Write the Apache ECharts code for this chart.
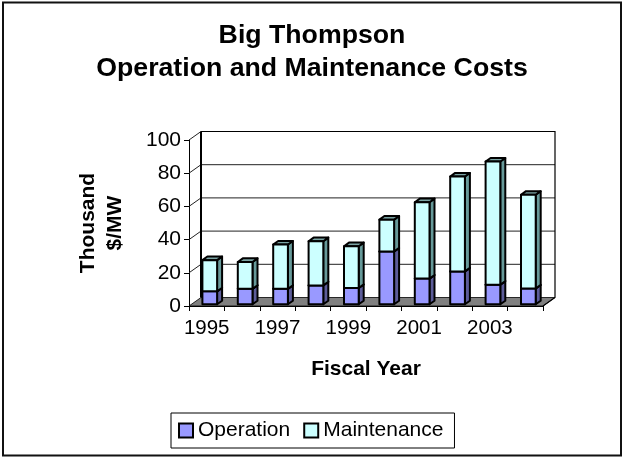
<!DOCTYPE html>
<html><head><meta charset="utf-8">
<style>html,body{margin:0;padding:0;background:#fff;overflow:hidden}#c{width:623px;height:459px}</style>
<script src="https://cdn.jsdelivr.net/npm/echarts@6/dist/echarts.min.js"></script>
</head><body><div id="c"></div>
<script>
const years = ['1995','1996','1997','1998','1999','2000','2001','2002','2003','2004'];
const operation = [7.8, 9.3, 9.3, 11.4, 9.8, 31.8, 15.5, 19.8, 11.8, 9.5];
const maintenance = [18.8, 16.2, 26.7, 26.6, 25.2, 19.2, 46, 57.2, 74.2, 56.5];
const ticks = [0,20,40,60,80,100];
const opColor = '#9999FF', opSide = '#5C5C99', opTop='#7A7ACC';
const mtColor = '#CCFFFF', mtSide = '#669999', mtTop='#7AA3A3';
const DX = 12, DY = 8.5;
const bx = 5, by = 3.6;
const sx = 2.85, sy = 1.7;
const W = 14.7;
const chart = echarts.init(document.getElementById('c'), null, {renderer:'canvas'});
function wall(params, api){
  const cs = params.coordSys;
  const L = cs.x, R = cs.x+cs.width, T = cs.y, B = cs.y+cs.height;
  const kids = [];
  kids.push({type:'polygon',shape:{points:[[L,B],[L+DX,B-DY],[R+DX,B-DY],[R,B]]},style:{fill:'#808080',stroke:'#000',lineWidth:0.8},silent:true});
  ticks.forEach(t=>{
    const y = api.coord([0,t])[1];
    if(t>0){ kids.push({type:'polyline',shape:{points:[[L,y],[L+DX,y-DY],[R+DX,y-DY]]},style:{fill:null,stroke:'#222',lineWidth:1},silent:true}); }
  });
  kids.push({type:'polyline',shape:{points:[[L+DX,T-DY],[R+DX,T-DY],[R+DX,B-DY],[R,B]]},style:{fill:null,stroke:'#000',lineWidth:1.2},silent:true});
  kids.push({type:'line',shape:{x1:L+DX,y1:B-DY,x2:L+DX,y2:T-DY},style:{stroke:'#000',lineWidth:2},silent:true});
  return {type:'group',children:kids};
}
function seg(front,side,top){
  return function(params, api){
    const i = api.value(0), a = api.value(1), b = api.value(2);
    const c0 = api.coord([i,a]), c1 = api.coord([i,b]);
    const x0 = c0[0]+sx-W/2+0.2, x1 = x0+W, y0 = c0[1]-sy, y1 = c1[1]-sy;
    const st = (f)=>({fill:f,stroke:'#000',lineWidth:2,lineJoin:'round'});
    return {type:'group',children:[
      {type:'polygon',shape:{points:[[x1,y0],[x1+bx,y0-by],[x1+bx,y1-by],[x1,y1]]},style:st(side)},
      {type:'polygon',shape:{points:[[x0,y1],[x0+bx,y1-by],[x1+bx,y1-by],[x1,y1]]},style:st(top)},
      {type:'rect',shape:{x:x0,y:y1,width:W,height:y0-y1},style:st(front)}
    ]};
  };
}
const opData = years.map((y,i)=>[i,0,operation[i]]);
const mtData = years.map((y,i)=>[i,operation[i],operation[i]+maintenance[i]]);
const font = 'Liberation Sans';
chart.setOption({
  animation:false,
  backgroundColor:'#fff',
  graphic:[
    {type:'rect',z:-1,shape:{x:3,y:2.5,width:618,height:453},style:{fill:'#fff',stroke:'#111',lineWidth:2}}
  ],
  title:{text:'Big Thompson\nOperation and Maintenance Costs',left:307,top:14,textAlign:'center',
    textStyle:{fontFamily:font,fontSize:26.7,fontWeight:'bold',color:'#000',lineHeight:33}},
  legend:{left:171,top:413,orient:'horizontal',padding:[7,11,7,7],itemGap:13,itemWidth:14,itemHeight:14,
    borderColor:'#000',borderWidth:1,backgroundColor:'#fff',
    textStyle:{fontFamily:font,fontSize:21,color:'#000'},
    data:[
      {name:'Operation',icon:'rect',itemStyle:{color:opColor,borderColor:'#000',borderWidth:2}},
      {name:'Maintenance',icon:'rect',itemStyle:{color:mtColor,borderColor:'#000',borderWidth:2}}
    ]},
  grid:{left:189,right:80,top:140,bottom:153,containLabel:false},
  xAxis:{type:'category',data:years,name:'Fiscal Year',nameLocation:'middle',nameGap:53,
    nameTextStyle:{fontFamily:font,fontSize:21,fontWeight:'bold',color:'#000'},
    axisLine:{show:true,lineStyle:{color:'#000'}},axisTick:{show:true,alignWithLabel:false,length:5,lineStyle:{color:'#000'},interval:0},
    axisLabel:{interval:1,fontFamily:font,fontSize:20.5,color:'#000',margin:12},splitLine:{show:false}},
  yAxis:{type:'value',min:0,max:100,interval:20,name:'Thousand\n$/MW',nameLocation:'middle',nameGap:60,nameRotate:90,
    nameTextStyle:{fontFamily:font,fontSize:21,fontWeight:'bold',color:'#000',lineHeight:27},
    axisLine:{show:true,lineStyle:{color:'#000'}},axisTick:{show:true,length:5,lineStyle:{color:'#000'}},
    axisLabel:{fontFamily:font,fontSize:21,color:'#000',margin:8,padding:[5,0,0,0]},splitLine:{show:false}},
  series:[
    {type:'custom',name:'wall',renderItem:wall,data:[[0,0,0]],encode:{x:0,y:1},silent:true,z:1,legendHoverLink:false},
    {type:'custom',name:'Operation',renderItem:seg(opColor,opSide,opTop),data:opData,encode:{x:0,y:[1,2]},itemStyle:{color:opColor},z:2},
    {type:'custom',name:'Maintenance',renderItem:seg(mtColor,mtSide,mtTop),data:mtData,encode:{x:0,y:[1,2]},itemStyle:{color:mtColor},z:3}
  ]
});
</script></body></html>
